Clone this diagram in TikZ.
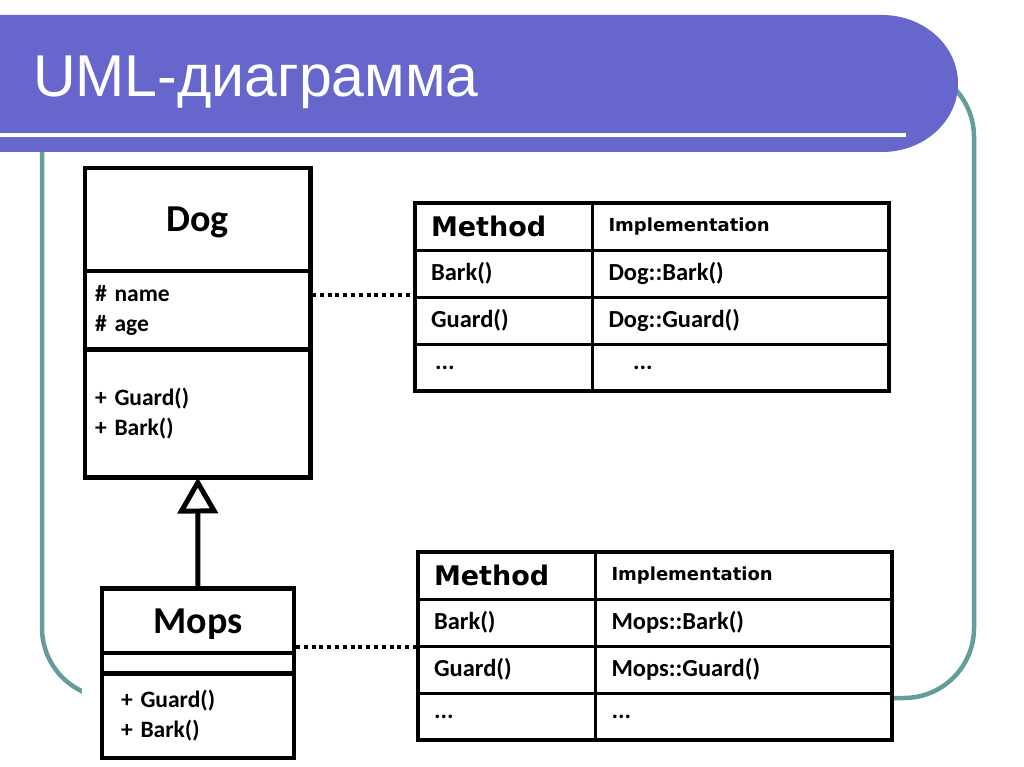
\documentclass[tikz,border=0pt]{standalone}
\usepackage{fontspec}
\usepackage{xcolor}
\usepackage{tikz}
\usetikzlibrary{arrows.meta,positioning,fit}
\newfontfamily\titlefont{Liberation Sans}
\newfontfamily\umlfont{Carlito}
\newfontfamily\headfont{DejaVu Sans}
\definecolor{bannerBlau}{HTML}{6666CC}
\definecolor{rahmenTeal}{HTML}{639E9B}

\tikzset{
  umlbox/.style={draw, line width=4.5pt, inner sep=0pt, outer sep=0pt},
  classname/.style={font=\umlfont\bfseries\fontsize{38}{42}\selectfont, text depth=0pt},
  members/.style={align=left, font=\umlfont\bfseries\fontsize{23.5}{29.5}\selectfont},
  cell/.style={draw, line width=3pt, inner sep=0pt, inner xsep=16pt, outer sep=0pt,
    minimum height=47pt, align=left, font=\umlfont\bfseries\fontsize{24.5}{28}\selectfont},
  methcol/.style={cell, text width=145.5pt},
  implcol/.style={cell, text width=264.5pt},
  methhead/.style={font=\headfont\bfseries\fontsize{27}{30}\selectfont},
  implhead/.style={font=\headfont\bfseries\fontsize{18}{22}\selectfont},
  tabframe/.style={draw, line width=4.5pt, inner sep=0pt, outer sep=0pt},
  dotline/.style={line width=4.5pt, dash pattern=on 4pt off 3.8pt},
}

\begin{document}
\begin{tikzpicture}[x=1pt,y=-1pt]
\useasboundingbox (0,0) rectangle (1024,767);
% slide frame and title banner
\draw[rahmenTeal,line width=4.5pt,rounded corners=70pt] (42,67) rectangle (974,698);
\fill[white] (82,160) rectangle (892,767);
\fill[bannerBlau] (0,15) -- (882,15) arc[start angle=-90,end angle=90,x radius=76,y radius=68.5] -- (0,152) -- cycle;
\draw[white,line width=4pt] (0,135) -- (906,135);
\node[anchor=base west,inner sep=0pt,text=white,font=\titlefont\fontsize{59}{66}\selectfont] (title) at (33,97) {UML-диаграмма};

% class Dog
\node[umlbox, classname, minimum width=225.5pt, minimum height=103pt] (dogHead) at (197.75,219.5) {Dog};
\node[umlbox, members, minimum height=78.5pt, inner xsep=10pt, text width=205.5pt, below=0pt of dogHead] (dogAttr) {\# name\\\# age};
\node[umlbox, members, minimum height=128pt, inner xsep=10pt, text width=205.5pt, below=0pt of dogAttr] (dogOps) {+ Guard()\\+ Bark()};

% class Mops
\node[umlbox, classname, minimum width=192pt, minimum height=64.5pt] (mopsHead) at (198,620.75) {Mops};
\node[umlbox, minimum width=192pt, minimum height=20.5pt, below=0pt of mopsHead] (mopsAttr) {};
\node[umlbox, members, minimum height=84.5pt, inner xsep=19pt, text width=154pt, below=0pt of mopsAttr] (mopsOps) {+ Guard()\\+ Bark()};

% inheritance
\draw[line width=5pt,-{Triangle[open,length=36pt,width=40pt]}] (mopsHead.north) -- (dogOps.south);

% method table of Dog
\node[methcol, methhead, anchor=north west] (dogT11) at (415,203) {Method};
\node[implcol, implhead, right=0pt of dogT11] (dogT12) {Implementation};
\node[methcol, below=0pt of dogT11] (dogT21) {Bark()};
\node[implcol, right=0pt of dogT21] (dogT22) {Dog::Bark()};
\node[methcol, below=0pt of dogT21] (dogT31) {Guard()};
\node[implcol, right=0pt of dogT31] (dogT32) {Dog::Guard()};
\node[methcol, below=0pt of dogT31] (dogT41) {\,...};
\node[implcol, right=0pt of dogT41] (dogT42) {\quad...};
\node[tabframe, fit=(dogT11)(dogT42)] (dogTab) {};

% method table of Mops
\node[methcol, methhead, anchor=north west] (mopsT11) at (418,552) {Method};
\node[implcol, implhead, right=0pt of mopsT11] (mopsT12) {Implementation};
\node[methcol, below=0pt of mopsT11] (mopsT21) {Bark()};
\node[implcol, right=0pt of mopsT21] (mopsT22) {Mops::Bark()};
\node[methcol, below=0pt of mopsT21] (mopsT31) {Guard()};
\node[implcol, right=0pt of mopsT31] (mopsT32) {Mops::Guard()};
\node[methcol, below=0pt of mopsT31] (mopsT41) {...};
\node[implcol, right=0pt of mopsT41] (mopsT42) {...};
\node[tabframe, fit=(mopsT11)(mopsT42)] (mopsTab) {};

% links to the tables
\coordinate (dogLink) at (312,295);
\coordinate (mopsLink) at (296,647);
\draw[dotline] (dogLink) -- (dogLink -| dogTab.west);
\draw[dotline] (mopsLink) -- (mopsLink -| mopsTab.west);
\end{tikzpicture}
\end{document}
